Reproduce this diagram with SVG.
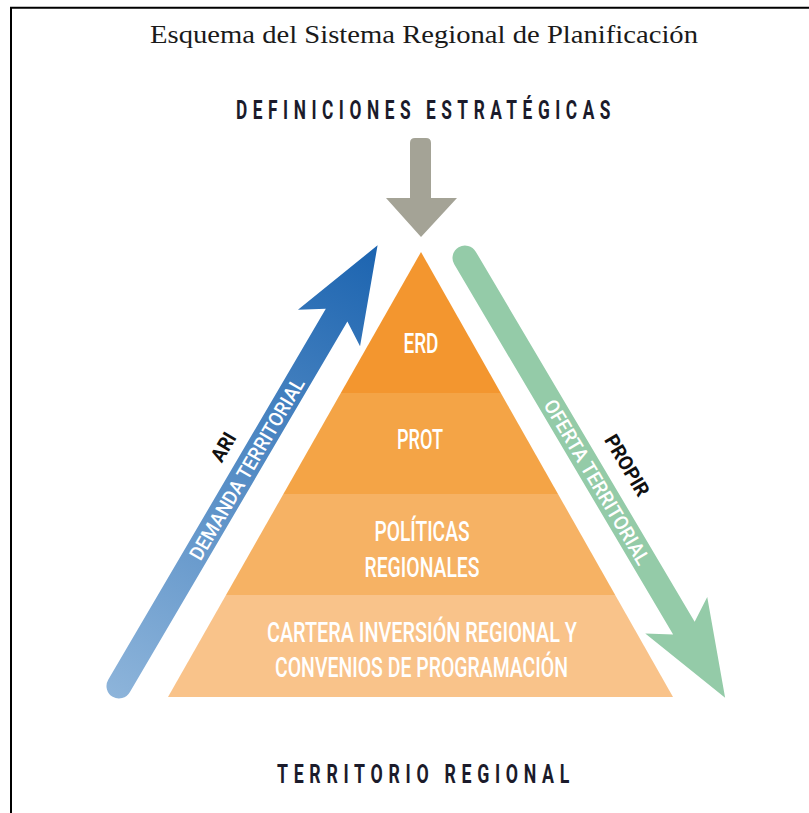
<svg xmlns="http://www.w3.org/2000/svg" width="809" height="813" viewBox="0 0 809 813">
<defs>
<style>
.title{font-family:"Liberation Serif","Times New Roman",serif;font-size:26px;fill:#1a1a1a}
.head{font-family:Roboto,"Liberation Sans",sans-serif;font-weight:700;font-size:25px;fill:#1b1b2b;letter-spacing:8px}
.lvl{font-family:Roboto,"Liberation Sans",sans-serif;font-weight:500;font-size:28px;fill:#ffffff;text-anchor:middle}
.alab{font-family:Roboto,"Liberation Sans",sans-serif;font-weight:500;font-size:20px;fill:#ffffff;text-anchor:middle}
.blab{font-family:Roboto,"Liberation Sans",sans-serif;font-weight:700;font-size:20px;fill:#111111;text-anchor:middle}
</style>
<linearGradient id="gBlue" gradientUnits="userSpaceOnUse" x1="-12" y1="0" x2="511" y2="0">
<stop offset="0" stop-color="#8db4da"/>
<stop offset="1" stop-color="#1c64b0"/>
</linearGradient>
</defs>
<rect x="0" y="0" width="809" height="813" fill="#ffffff"/>
<path d="M11,813 V7.7 H809" fill="none" stroke="#000000" stroke-width="2"/>
<g id="title">
<text class="title" x="424" y="43" text-anchor="middle" textLength="548" lengthAdjust="spacingAndGlyphs">Esquema del Sistema Regional de Planificación</text>
</g>
<g id="definiciones">
<text class="head" x="426" y="119" text-anchor="middle" textLength="380" lengthAdjust="spacingAndGlyphs">DEFINICIONES ESTRATÉGICAS</text>
</g>
<g id="territorio">
<text class="head" x="426" y="783" text-anchor="middle" textLength="298" lengthAdjust="spacingAndGlyphs">TERRITORIO REGIONAL</text>
</g>
<g id="pyramid">
<g id="erd">
<polygon points="421,252 500.8,393 340.8,393" fill="#f3962f"/>
<text class="lvl" x="421" y="353" textLength="35" lengthAdjust="spacingAndGlyphs">ERD</text>
</g>
<g id="prot">
<polygon points="340.8,393 500.8,393 558,494 283.4,494" fill="#f4a446"/>
<text class="lvl" x="420" y="449" textLength="46" lengthAdjust="spacingAndGlyphs">PROT</text>
</g>
<g id="politicas">
<polygon points="283.4,494 558,494 615.2,595 226,595" fill="#f6b264"/>
<text class="lvl" x="422" y="541" textLength="95" lengthAdjust="spacingAndGlyphs">POLÍTICAS</text>
<text class="lvl" x="422" y="577" textLength="115" lengthAdjust="spacingAndGlyphs">REGIONALES</text>
</g>
<g id="cartera">
<polygon points="226,595 615.2,595 673,697 168,697" fill="#f9c38a"/>
<text class="lvl" x="422" y="642" textLength="310" lengthAdjust="spacingAndGlyphs">CARTERA INVERSIÓN REGIONAL Y</text>
<text class="lvl" x="421.5" y="677" textLength="293" lengthAdjust="spacingAndGlyphs">CONVENIOS DE PROGRAMACIÓN</text>
</g>
</g>
<g id="connectors">
<g id="arrow-definiciones">
<path d="M410,143 Q410,138 415,138 H426 Q431,138 431,143 V198 H457 L421,237 L386,198 H410 Z" fill="#a4a396"/>
</g>
<g id="arrow-ari" transform="translate(119,686) rotate(-59.6)">
<path d="M0,-12.5 L430,-12.5 L415,-36 L511,0 L415,36 L430,12.5 L0,12.5 A12.5,12.5 0 0 1 0,-12.5 Z" fill="url(#gBlue)"/>
<text class="alab" x="252" y="7.5" textLength="207" lengthAdjust="spacingAndGlyphs">DEMANDA TERRITORIAL</text>
<text class="blab" x="259" y="-24" textLength="30" lengthAdjust="spacingAndGlyphs">ARI</text>
</g>
<g id="arrow-propir" transform="translate(465,258) rotate(59.4)">
<path d="M0,-12.5 L430,-12.5 L415,-36 L511,0 L415,36 L430,12.5 L0,12.5 A12.5,12.5 0 0 1 0,-12.5 Z" fill="#94cba8"/>
<text class="alab" x="260" y="7.5" textLength="188" lengthAdjust="spacingAndGlyphs">OFERTA TERRITORIAL</text>
<text class="blab" x="261" y="-27" textLength="68" lengthAdjust="spacingAndGlyphs">PROPIR</text>
</g>
</g>
</svg>
